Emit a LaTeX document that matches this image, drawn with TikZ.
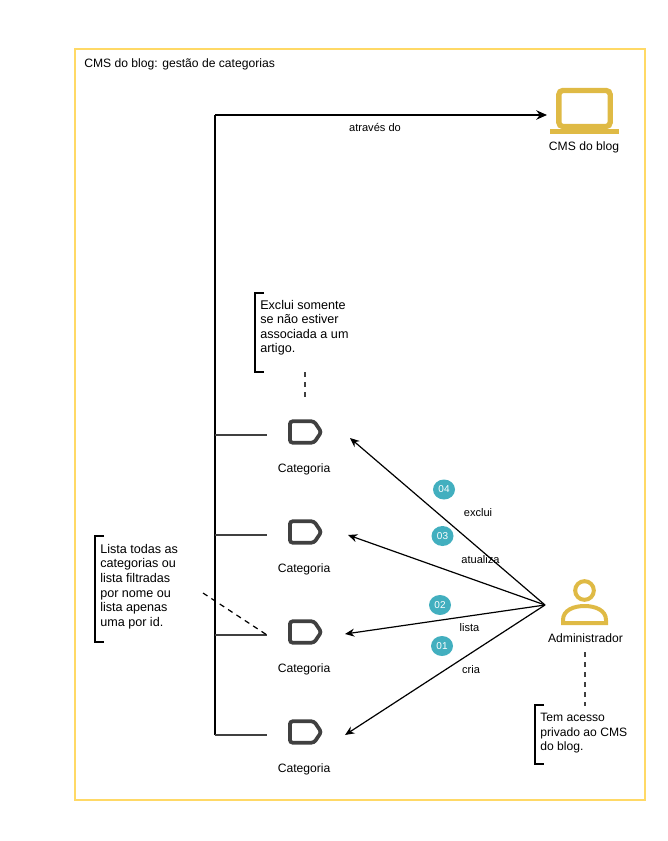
\documentclass[tikz,border=0pt]{standalone}
\usepackage{fontspec}
\setmainfont{Liberation Sans}
\usepackage{xcolor}
\usepackage{tikz}
\usetikzlibrary{positioning,arrows.meta,shapes.symbols,shapes.geometric}
\definecolor{moldura}{HTML}{FFD966}
\definecolor{ouro}{HTML}{DFBA45}
\definecolor{grafite}{HTML}{404040}
\definecolor{turquesa}{HTML}{42AFBF}
\begin{document}
\begin{tikzpicture}[
        x=0.75pt,y=-0.75pt,
        every node/.style={font=\fontsize{9.1}{10.9}\selectfont,inner sep=0pt},
        nota/.style={align=left,anchor=north west},
        notalarga/.style={nota,font=\fontsize{9.45}{10.9}\selectfont},
        rotulo/.style={font=\fontsize{8.3}{9}\selectfont},
        etiqueta/.style={shape=signal,signal to=east,signal pointer angle=112,draw=grafite,line width=2.8pt,rounded corners=2pt,minimum width=23.5pt,minimum height=16pt},
        selo/.style={shape=ellipse,fill=turquesa,text=white,minimum width=16.5pt,minimum height=15pt,font=\fontsize{7.5}{9}\selectfont},
        seta/.style={-{Stealth[length=7pt,width=6pt]},line width=0.9pt},
        tronco/.style={line width=1.1pt},
        tracejado/.style={dashed,grafite,line width=0.9pt,dash pattern=on 4pt off 3.5pt},
        colchete/.style={line width=1.3pt},
      ]
      \useasboundingbox (0,0) rectangle (667,841);
      \node[draw=moldura,line width=1.5pt,outer sep=0pt,minimum width=427.5pt,minimum height=563pt,anchor=north west] (quadro) at (75,49) {};
      \node[anchor=north west] (titulo) at (84,58) {CMS do blog: gestão de categorias};

      % laptop
      \node[draw=ouro,line width=4pt,rounded corners=3pt,minimum width=38.5pt,minimum height=27pt] (tela) at (584.5,108.5) {};
      \node[fill=ouro,minimum width=52pt,minimum height=4.2pt] (teclado) at (584.5,131.5) {};
      \node (cms) at (584,147.5) {CMS do blog};

      % categorias
      \node[etiqueta] (cat1) at (302,432) {};
      \node[etiqueta] (cat2) at (302,532) {};
      \node[etiqueta] (cat3) at (302,632) {};
      \node[etiqueta] (cat4) at (302,732) {};
      \node[below=14pt of cat1,xshift=1.6pt] (nome1) {Categoria};
      \node[below=14pt of cat2,xshift=1.6pt] (nome2) {Categoria};
      \node[below=14pt of cat3,xshift=1.6pt] (nome3) {Categoria};
      \node[below=14pt of cat4,xshift=1.6pt] (nome4) {Categoria};

      % administrador
      \node[shape=circle,draw=ouro,line width=3pt,minimum size=14pt] (cabeca) at (584.5,590.5) {};
      \coordinate (corpo) at (584.5,623);
      \draw[ouro,line width=3pt] (corpo) -- (563,623) -- (563,620) .. controls (563,610) and (574,606) .. (584.5,606) .. controls (595,606) and (606,610) .. (606,620) -- (606,623) -- cycle;
      \node (admin) at (585.5,638) {Administrador};

      % tronco
      \coordinate (topo) at (215,115);
      \coordinate (base) at (215,735);
      \coordinate (ponta) at (547,115);
      \coordinate (r1) at (215,435);
      \coordinate (r2) at (215,535);
      \coordinate (r3) at (215,635);
      \coordinate (e1) at (267,435);
      \coordinate (e2) at (267,535);
      \coordinate (e3) at (267,635);
      \coordinate (e4) at (267,735);
      \draw[tronco] (base) -- (topo);
      \draw[-{Stealth[length=8pt,width=7pt]},line width=1.4pt] (topo) -- (ponta);
      \draw[grafite,line width=0.9pt] (r1) -- (e1);
      \draw[grafite,line width=0.9pt] (r2) -- (e2);
      \draw[grafite,line width=0.9pt] (r3) -- (e3);
      \draw[grafite,line width=0.9pt] (base) -- (e4);
      \node[rotulo] (atraves) at (375,127) {através do};

      % setas do administrador
      \coordinate (origem) at (545,605);
      \coordinate (a1) at (350,438);
      \coordinate (a2) at (348,535);
      \coordinate (a3) at (345,634);
      \coordinate (a4) at (345,735);
      \draw[seta] (origem) -- (a1);
      \draw[seta] (origem) -- (a2);
      \draw[seta] (origem) -- (a3);
      \draw[seta] (origem) -- (a4);
      \node[selo] (s4) at (444,489.5) {04};
      \node[selo] (s3) at (442.5,536) {03};
      \node[selo] (s2) at (440,605) {02};
      \node[selo] (s1) at (442,646) {01};
      \node[rotulo] (exclui) at (478,513) {exclui};
      \node[rotulo] (atualiza) at (480.5,559.5) {atualiza};
      \node[rotulo] (lista) at (469.5,628) {lista};
      \node[rotulo] (cria) at (471,669.5) {cria};

      % notas
      \node[notalarga] (n1) at (260,300) {Exclui somente\\se não estiver\\associada a um\\artigo.};
      \coordinate (c1a) at (264,293);
      \coordinate (c1b) at (255,293);
      \coordinate (c1c) at (255,372);
      \coordinate (c1d) at (264,372);
      \draw[colchete] (c1a) -- (c1b) -- (c1c) -- (c1d);
      \coordinate (d1) at (305,372);
      \coordinate (d2) at (305,398);
      \draw[tracejado] (d1) -- (d2);

      \node[notalarga] (n2) at (100,544) {Lista todas as\\categorias ou\\lista filtradas\\por nome ou\\lista apenas\\uma por id.};
      \coordinate (c2a) at (104,536);
      \coordinate (c2b) at (95,536);
      \coordinate (c2c) at (95,642);
      \coordinate (c2d) at (104,642);
      \draw[colchete] (c2a) -- (c2b) -- (c2c) -- (c2d);
      \coordinate (d3) at (203,593);
      \draw[tracejado,black] (d3) -- (e3);

      \node[nota] (n3) at (540,713) {Tem acesso\\privado ao CMS\\do blog.};
      \coordinate (c3a) at (544,705);
      \coordinate (c3b) at (535,705);
      \coordinate (c3c) at (535,764);
      \coordinate (c3d) at (544,764);
      \draw[colchete] (c3a) -- (c3b) -- (c3c) -- (c3d);
      \coordinate (d4) at (585,652);
      \coordinate (d5) at (585,706);
      \draw[tracejado] (d4) -- (d5);
    \end{tikzpicture}
\end{document}
